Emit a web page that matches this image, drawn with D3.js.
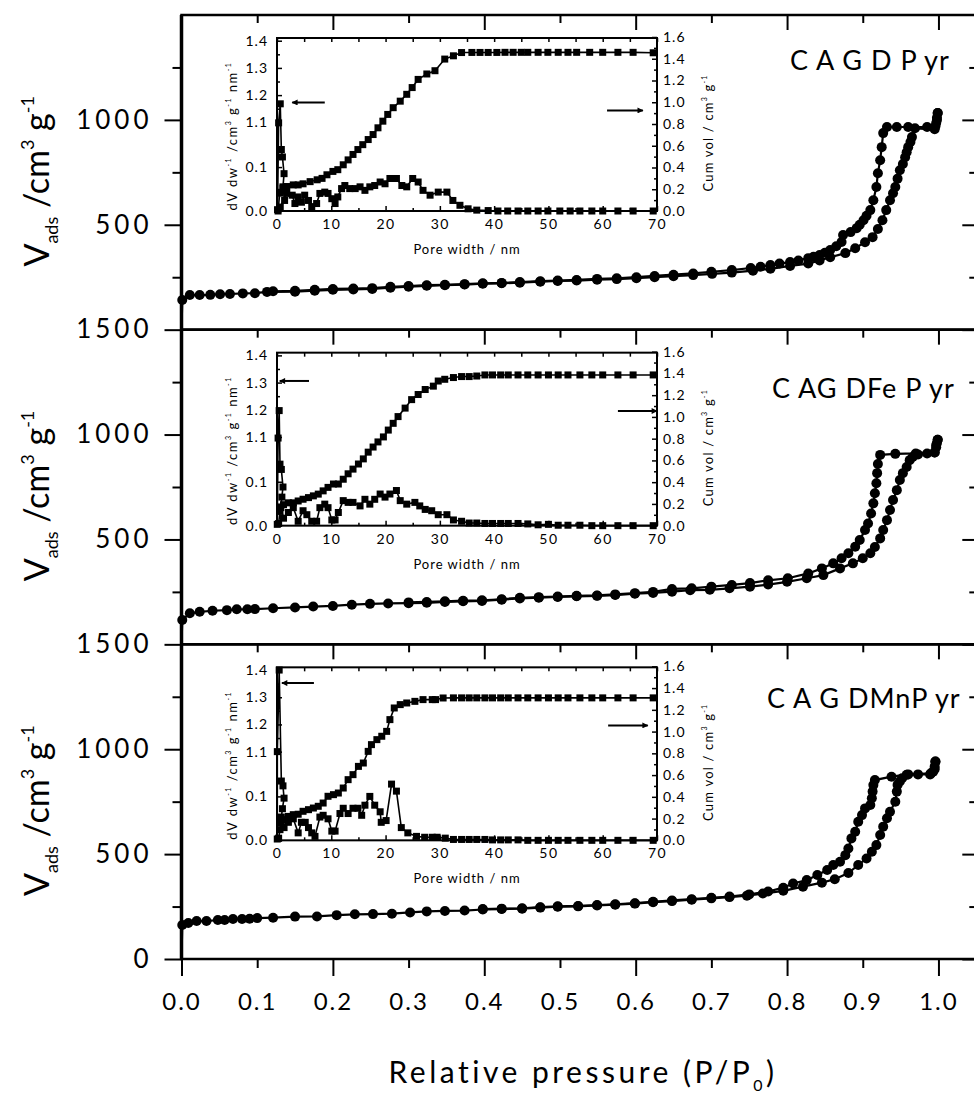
<!DOCTYPE html>
<html>
<head>
<meta charset="utf-8">
<title>CAGD isotherms</title>
<script src="https://cdnjs.cloudflare.com/ajax/libs/d3/7.8.5/d3.min.js"></script>
<style>
  body { margin:0; background:#fff; }
  svg { display:block; }
  .frame { fill:none; stroke:#000; stroke-width:2.5px; }
  .iframe { fill:none; stroke:#000; stroke-width:2px; }
  .axis path { display:none; }
  .axis line { stroke:#000; stroke-width:2px; }
  .iaxis path { display:none; }
  .iaxis line { stroke:#000; stroke-width:1.5px; }
  .iso { fill:none; stroke:#000; stroke-width:2.2px; }
  .ins { fill:none; stroke:#000; stroke-width:1.6px; }
</style>
</head>
<body>
<div id="chart"></div>
<script>
var FONT = "Lato, 'Open Sans', sans-serif";

// ---- data: isotherms [P/P0, Vads] ----
var topAds = [[0,0],[0.001,141],[0.011,165],[0.024,165],[0.038,166],[0.051,169],[0.064,170],[0.081,173],[0.097,174],[0.113,180],[0.15,181],[0.176,186],[0.2,190],[0.227,192],[0.252,194],[0.276,200],[0.3,205],[0.324,209],[0.348,212],[0.374,215],[0.398,219],[0.423,221],[0.447,224],[0.474,229],[0.497,232],[0.522,234],[0.549,238],[0.575,241],[0.601,245],[0.625,250],[0.65,255],[0.676,260],[0.701,266],[0.727,272],[0.755,281],[0.778,290],[0.804,304],[0.828,315],[0.843,330],[0.857,345],[0.877,365],[0.89,388],[0.903,417],[0.913,441],[0.92,480],[0.926,522],[0.931,570],[0.936,617],[0.94,650],[0.943,680],[0.946,720],[0.949,760],[0.953,790],[0.956,822],[0.958,846],[0.96,870],[0.963,895],[0.965,918],[0.969,960],[0.995,955],[0.997,985],[0.998,1010],[0.999,1033]];
var topDes = [[0.999,1033],[0.998,1000],[0.996,970],[0.985,966],[0.96,966],[0.945,966],[0.932,966],[0.927,937],[0.925,870],[0.923,808],[0.92,746],[0.918,680],[0.914,617],[0.91,570],[0.905,543],[0.901,522],[0.896,500],[0.892,484],[0.884,465],[0.874,451],[0.872,418],[0.865,398],[0.857,380],[0.85,367],[0.843,356],[0.835,348],[0.828,341],[0.815,330],[0.804,322],[0.79,315],[0.778,308],[0.765,300],[0.752,294],[0.727,284],[0.7,276],[0.676,268],[0.65,262],[0.625,256],[0.601,250],[0.575,245],[0.549,242],[0.522,237],[0.497,234],[0.474,231],[0.447,227],[0.423,223],[0.398,221],[0.374,217],[0.348,214],[0.324,212],[0.3,208],[0.276,204],[0.252,198],[0.227,196],[0.2,194],[0.176,190],[0.15,185],[0.121,183]];

var midAds = [[0,0],[0.001,116],[0.011,148],[0.024,155],[0.041,160],[0.06,163],[0.073,167],[0.087,167],[0.097,168],[0.121,172],[0.15,176],[0.174,180],[0.2,183],[0.225,189],[0.249,193],[0.273,195],[0.3,196],[0.324,198],[0.348,202],[0.372,205],[0.397,207],[0.423,213],[0.447,219],[0.472,222],[0.497,226],[0.522,229],[0.549,231],[0.573,235],[0.599,241],[0.623,245],[0.648,251],[0.672,258],[0.698,260],[0.724,267],[0.751,275],[0.775,285],[0.8,298],[0.826,315],[0.848,330],[0.87,362],[0.887,386],[0.9,410],[0.91,434],[0.916,464],[0.923,505],[0.927,545],[0.932,592],[0.936,640],[0.94,688],[0.945,735],[0.949,783],[0.953,816],[0.958,845],[0.962,878],[0.966,893],[0.973,905],[0.985,910],[0.995,915],[0.997,940],[0.998,960],[0.999,975]];
var midDes = [[0.999,975],[0.997,950],[0.995,915],[0.97,910],[0.943,908],[0.923,903],[0.92,860],[0.919,816],[0.918,768],[0.916,720],[0.914,672],[0.911,624],[0.907,576],[0.903,545],[0.896,497],[0.89,465],[0.881,434],[0.872,410],[0.861,386],[0.846,362],[0.828,338],[0.801,315],[0.775,305],[0.751,292],[0.727,283],[0.7,275],[0.674,267],[0.648,264],[0.623,250],[0.599,244],[0.573,238],[0.549,233],[0.522,231],[0.497,228],[0.472,225],[0.447,222],[0.423,215],[0.397,210],[0.372,208],[0.348,205],[0.324,202],[0.3,200]];

var botAds = [[0,0],[0.001,162],[0.009,172],[0.02,181],[0.033,181],[0.048,186],[0.057,186],[0.068,191],[0.08,191],[0.09,192],[0.1,195],[0.121,197],[0.15,202],[0.179,203],[0.205,209],[0.229,213],[0.253,214],[0.278,216],[0.302,222],[0.324,227],[0.348,229],[0.374,231],[0.398,236],[0.423,238],[0.45,240],[0.474,245],[0.497,249],[0.524,251],[0.549,255],[0.573,259],[0.599,264],[0.623,271],[0.648,276],[0.674,283],[0.7,289],[0.724,295],[0.747,302],[0.768,312],[0.795,325],[0.821,345],[0.846,364],[0.863,380],[0.881,410],[0.894,448],[0.905,479],[0.912,511],[0.918,543],[0.923,591],[0.927,631],[0.932,671],[0.936,702],[0.943,750],[0.945,798],[0.946,830],[0.949,846],[0.952,862],[0.958,878],[0.973,880],[0.989,880],[0.993,893],[0.995,917],[0.996,941]];
var botDes = [[0.996,941],[0.995,905],[0.99,885],[0.96,880],[0.938,869],[0.916,853],[0.914,829],[0.913,798],[0.912,766],[0.91,734],[0.903,718],[0.899,686],[0.894,654],[0.89,607],[0.885,575],[0.881,527],[0.877,495],[0.87,464],[0.861,448],[0.853,424],[0.84,400],[0.826,376],[0.808,360],[0.795,340],[0.775,322],[0.75,308],[0.724,298],[0.7,292],[0.674,285],[0.648,279],[0.623,273],[0.599,266],[0.573,261],[0.549,257],[0.524,253],[0.497,251],[0.474,247],[0.45,242],[0.423,240],[0.398,238]];

// ---- data: insets [pore width nm, value] ----
var topPsd = [[0.1,0.003],[0.3,1.098],[0.6,1.168],[0.8,0.145],[1.0,0.123],[1.3,0.085],[1.1,0.055],[1.4,0.024],[0.6,0.009],[1.8,0.04],[2.8,0.036],[3.3,0.017],[3.9,0.032],[4.5,0.02],[5.1,0.036],[5.8,0.024],[6.4,0.01],[7.3,0.017],[7.9,0.04],[8.8,0.043],[9.4,0.04],[10.1,0.028],[10.7,0.017],[11.2,0.032],[11.9,0.051],[12.5,0.058],[13.4,0.051],[14.4,0.051],[15.3,0.055],[16.2,0.047],[17.1,0.055],[18,0.058],[19,0.066],[19.9,0.062],[20.8,0.074],[22,0.074],[23,0.058],[23.9,0.055],[25,0.074],[26,0.066],[26.9,0.047],[28.2,0.036],[29.7,0.043],[31.3,0.043],[32.4,0.024],[33.7,0.013],[35.2,0.005],[36.8,0.002],[38.9,0.001],[40.7,0],[42.5,0],[44.4,0],[46.2,0],[48.1,0],[49.9,0],[52.1,0],[54,0],[55.8,0],[58,0],[60,0],[62.8,0],[65.6,0],[69.3,0]];
var topCum = [[0.2,0],[0.5,0.164],[1.1,0.21],[1.8,0.225],[3,0.24],[3.9,0.24],[4.8,0.25],[6.1,0.27],[7.4,0.287],[8.3,0.3],[9.2,0.333],[10.3,0.364],[11.2,0.38],[12.2,0.425],[13.1,0.47],[14,0.52],[14.9,0.565],[15.8,0.61],[16.8,0.657],[17.7,0.703],[18.6,0.765],[19.5,0.826],[20.4,0.888],[21.4,0.95],[22.7,1.01],[23.9,1.073],[24.9,1.135],[26,1.21],[27.6,1.26],[29.1,1.29],[30.9,1.397],[32.5,1.427],[34,1.457],[35.9,1.458],[37.4,1.458],[38.9,1.458],[40.5,1.458],[42,1.459],[43.5,1.459],[45,1.459],[46.2,1.459],[48.1,1.459],[49.9,1.459],[51.8,1.459],[53.6,1.459],[55.2,1.459],[57.6,1.459],[60,1.459],[62.8,1.459],[65.6,1.459],[69.3,1.455]];

var midPsd = [[0.05,0.003],[0.2,1.096],[0.4,1.197],[0.55,0.15],[0.8,0.128],[1.1,0.088],[0.9,0.065],[0.7,0.041],[1.2,0.017],[2.1,0.03],[3,0.041],[3.9,0.01],[4.8,0.034],[5.5,0.025],[6.4,0.01],[7.3,0.01],[7.9,0.041],[8.8,0.049],[9.4,0.041],[10.1,0.013],[10.7,0.013],[11.3,0.03],[12.2,0.057],[13.1,0.053],[14,0.053],[15.3,0.045],[16.2,0.06],[17.1,0.049],[18,0.06],[19,0.072],[19.9,0.065],[20.8,0.072],[22,0.08],[22.7,0.057],[23.9,0.049],[25.4,0.053],[26.3,0.045],[27.3,0.037],[28.5,0.034],[29.7,0.025],[31.3,0.025],[32.5,0.013],[34,0.01],[35.4,0.006],[36.8,0.006],[38.3,0.005],[39.7,0.005],[41.2,0.005],[42.6,0.005],[44.4,0.005],[46.2,0.004],[48.1,0.002],[50,0.003],[51.8,0.001],[53.6,0.001],[55.8,0.001],[58,0],[60,0],[62.8,0],[65.6,0],[69.3,0]];
var midCum = [[0.3,0.02],[0.55,0.131],[1.2,0.193],[2.1,0.21],[3,0.21],[3.9,0.227],[4.8,0.243],[5.8,0.258],[6.7,0.274],[7.6,0.29],[8.5,0.32],[9.4,0.352],[10.4,0.383],[11.3,0.383],[12.2,0.427],[13.1,0.477],[14,0.52],[15,0.567],[15.9,0.614],[16.8,0.676],[17.7,0.723],[18.6,0.77],[19.6,0.816],[20.5,0.879],[21.4,0.941],[22.3,1.003],[23.6,1.081],[24.8,1.159],[26,1.206],[27.3,1.252],[28.8,1.283],[29.7,1.33],[30.9,1.346],[32.5,1.362],[34,1.371],[35.4,1.371],[36.8,1.376],[38.3,1.386],[39.7,1.386],[41.2,1.386],[42.6,1.386],[44.4,1.386],[46.2,1.386],[48.1,1.386],[50,1.386],[51.8,1.386],[53.6,1.386],[55.8,1.386],[58,1.386],[60,1.386],[62.8,1.386],[65.6,1.386],[69.3,1.386]];

var botPsd = [[0.05,0.003],[0.06,1.1],[0.4,1.4],[0.8,0.135],[1.1,0.124],[1.3,0.096],[1.0,0.072],[0.8,0.053],[1.3,0.029],[2.1,0.041],[3,0.049],[3.9,0.017],[4.5,0.041],[5.2,0.041],[5.8,0.029],[6.4,0.017],[7,0.009],[7.9,0.053],[8.5,0.057],[9.4,0.049],[10.1,0.021],[10.7,0.021],[11.6,0.061],[12.2,0.073],[13.1,0.061],[14,0.073],[14.9,0.073],[15.6,0.057],[16.2,0.08],[17.1,0.1],[18,0.08],[19,0.065],[19.2,0.041],[20.1,0.045],[21.1,0.128],[22,0.112],[22.9,0.029],[24.1,0.017],[25.7,0.009],[27.2,0.007],[28.6,0.007],[29.5,0.007],[31,0.005],[32.5,0.002],[34,0.002],[35.4,0.002],[36.8,0.002],[38.3,0.002],[39.7,0.001],[41.2,0.001],[42.6,0.001],[44.4,0.001],[46.2,0],[48.1,0],[50,0],[51.8,0],[53.6,0],[55.8,0],[58,0],[60,0],[62.8,0],[65.6,0],[69.3,0]];
var botCum = [[0.3,0.02],[0.55,0.098],[0.8,0.159],[1.2,0.19],[2.1,0.22],[3,0.236],[3.9,0.24],[4.8,0.267],[5.8,0.282],[6.7,0.297],[7.6,0.313],[8.5,0.343],[9.4,0.405],[10.4,0.42],[11.3,0.435],[12.2,0.481],[13.1,0.558],[14,0.604],[15,0.68],[15.9,0.711],[16.8,0.818],[17.4,0.88],[18.4,0.926],[19.3,0.957],[20.2,1.002],[20.8,1.11],[21.6,1.217],[22.7,1.248],[23.9,1.263],[25.4,1.278],[26.9,1.294],[28.6,1.294],[29.2,1.294],[30.6,1.309],[32.5,1.31],[34,1.31],[35.4,1.31],[36.8,1.31],[38.3,1.31],[39.7,1.31],[41.2,1.31],[42.6,1.31],[44.4,1.31],[46.2,1.31],[48.1,1.31],[50,1.31],[51.8,1.31],[53.6,1.31],[55.8,1.31],[58,1.31],[60,1.31],[62.8,1.31],[65.6,1.31],[69.3,1.31]];

// labels and ticks
var sampleNames = ["C A G D P yr", "C AG DFe P yr", "C A G DMnP yr"];
var yTickSets = [[500,1000],[500,1000,1500],[0,500,1000,1500]];
var yMinorTicks = [250,750,1250];
var xTicks = [0,0.1,0.2,0.3,0.4,0.5,0.6,0.7,0.8,0.9,1.0];
var insetXTicks = [0,10,20,30,40,50,60,70];
var insetXMinor = [5,15,25,35,45,55,65];
var insetLeftTicks = [0,0.1,1.1,1.2,1.3,1.4];
var insetLeftMinor = [0.05,1.15,1.25,1.35];
var insetRightTicks = [0,0.2,0.4,0.6,0.8,1.0,1.2,1.4,1.6];
var insetRightMinor = [0.1,0.3,0.5,0.7,0.9,1.1,1.3,1.5];
// arrows: [x1, x2, y] in inset data units (left arrow on dV/dw scale, right arrow on cumulative scale)
var leftArrows = [[8.8,2.8,1.173],[5.9,0.5,1.306],[6.8,0.9,1.352]];
var rightArrows = [[60.8,67.4,0.925],[62.8,70,1.054],[61,68.3,1.057]];

var panels = [
  {ads: topAds, des: topDes, psd: topPsd, cum: topCum, name: sampleNames[0], nameX: 790, nameDy: 55},
  {ads: midAds, des: midDes, psd: midPsd, cum: midCum, name: sampleNames[1], nameX: 772, nameDy: 68},
  {ads: botAds, des: botDes, psd: botPsd, cum: botCum, name: sampleNames[2], nameX: 767, nameDy: 64}
];

var width = 974, height = 1097;
var plotLeft = 181.5, plotRight = 976.3, plotTop = 15, plotBottom = 959;
var panelH = (plotBottom - plotTop) / 3;

var svg = d3.select("#chart").append("svg")
  .attr("width", width).attr("height", height)
  .style("font-family", FONT);

var defs = svg.append("defs");
defs.append("marker").attr("id", "head")
  .attr("viewBox", "0 0 10 10").attr("refX", 9).attr("refY", 5)
  .attr("markerWidth", 9).attr("markerHeight", 6).attr("markerUnits", "userSpaceOnUse")
  .attr("orient", "auto")
  .append("path").attr("d", "M0,0L10,5L0,10Z").attr("fill", "#000");

var x = d3.scaleLinear().domain([0, 1.05]).range([plotLeft, plotRight]);
var ix = d3.scaleLinear().domain([0, 70]).range([277, 657]);

function styleTicks(g, size, family, spacing) {
  g.attr("font-size", size).attr("font-family", family);
  g.selectAll("text").attr("fill", "#000").style("letter-spacing", spacing + "px");
}

panels.forEach(function(p, i) {
  var top = plotTop + i * panelH, bottom = top + panelH;
  var y = d3.scaleLinear().domain([0, 1500]).range([bottom, top]);
  var g = svg.append("g");

  // top ticks (inward)
  g.append("g").attr("class", "axis").attr("transform", "translate(0," + top + ")")
    .call(d3.axisTop(x).tickValues(xTicks).tickSize(-15).tickFormat(""))
    .selectAll(".tick line").attr("y2", function(d, k) { return k % 2 ? 8 : 15; });
  // right ticks (inward)
  g.append("g").attr("class", "axis").attr("transform", "translate(" + plotRight + ",0)")
    .call(d3.axisRight(y).tickValues(yTickSets[i].concat(yMinorTicks)).tickSize(-14).tickFormat(""))
    .selectAll(".tick line").attr("x2", function(d) { return d % 500 ? -7 : -14; });
  // left axis
  var la = g.append("g").attr("class", "axis").attr("transform", "translate(" + plotLeft + ",0)")
    .call(d3.axisLeft(y).tickValues(yTickSets[i]).tickSize(17).tickPadding(12).tickFormat(d3.format("d")));
  styleTicks(la, 26, FONT, 4);
  g.append("g").attr("class", "axis").attr("transform", "translate(" + plotLeft + ",0)")
    .call(d3.axisLeft(y).tickValues(yMinorTicks).tickSize(9).tickFormat(""));

  g.append("rect").attr("class", "frame")
    .attr("x", plotLeft).attr("y", top).attr("width", plotRight - plotLeft).attr("height", panelH);

  // y title
  var yt = g.append("text")
    .attr("transform", "translate(49," + (top + panelH / 2 + 9) + ") rotate(-90)")
    .attr("text-anchor", "middle").attr("font-size", 34);
  yt.append("tspan").text("V");
  yt.append("tspan").attr("font-size", 18).attr("dy", 9).text("ads");
  yt.append("tspan").attr("dy", -9).text(" /cm");
  yt.append("tspan").attr("font-size", 18).attr("dy", -15).text("3");
  yt.append("tspan").attr("dy", 15).text(" g");
  yt.append("tspan").attr("font-size", 18).attr("dy", -15).text("-1");

  // sample name
  g.append("text").attr("x", p.nameX).attr("y", top + p.nameDy)
    .attr("font-size", 27).style("letter-spacing", "1px").text(p.name);

  // isotherm
  var line = d3.line().x(function(d) { return x(d[0]); }).y(function(d) { return y(d[1]); });
  [p.ads, p.des].forEach(function(s) {
    g.append("path").attr("class", "iso").attr("d", line(s));
    g.selectAll(null).data(s.filter(function(d) { return d[1] > 0; })).enter().append("circle")
      .attr("cx", function(d) { return x(d[0]); })
      .attr("cy", function(d) { return y(d[1]); })
      .attr("r", 5).attr("fill", "#000");
  });

  // ---- inset ----
  var T = top + 23, B = top + 196;
  var iyL = d3.scaleLinear().domain([0, 0.14, 1.0, 1.41]).range([B, B - 61.5, B - 61.5, T]);
  var iyR = d3.scaleLinear().domain([0, 1.6]).range([B, T - 1]);
  var ig = svg.append("g");

  ig.append("rect").attr("x", ix(0)).attr("y", T).attr("width", ix(70) - ix(0)).attr("height", B - T)
    .attr("fill", "#fff");

  var bx = ig.append("g").attr("class", "iaxis").attr("transform", "translate(0," + B + ")")
    .call(d3.axisBottom(ix).tickValues(insetXTicks).tickSizeInner(-5).tickSizeOuter(0).tickPadding(8));
  styleTicks(bx, 14, FONT, 1.5);
  ig.append("g").attr("class", "iaxis").attr("transform", "translate(0," + B + ")")
    .call(d3.axisBottom(ix).tickValues(insetXMinor).tickSize(-3).tickFormat(""));
  ig.append("g").attr("class", "iaxis").attr("transform", "translate(0," + T + ")")
    .call(d3.axisTop(ix).tickValues(insetXTicks.concat(insetXMinor)).tickSize(-4).tickFormat(""));

  var lx = ig.append("g").attr("class", "iaxis").attr("transform", "translate(" + ix(0) + ",0)")
    .call(d3.axisLeft(iyL).tickValues(insetLeftTicks).tickSizeInner(-5).tickSizeOuter(0).tickPadding(9).tickFormat(d3.format(".1f")));
  styleTicks(lx, 14, FONT, 1);
  ig.append("g").attr("class", "iaxis").attr("transform", "translate(" + ix(0) + ",0)")
    .call(d3.axisLeft(iyL).tickValues(insetLeftMinor).tickSize(-3).tickFormat(""));

  var rx = ig.append("g").attr("class", "iaxis").attr("transform", "translate(" + ix(70) + ",0)")
    .call(d3.axisRight(iyR).tickValues(insetRightTicks).tickSizeInner(-5).tickSizeOuter(0).tickPadding(6).tickFormat(d3.format(".1f")));
  styleTicks(rx, 14, FONT, 1);
  ig.append("g").attr("class", "iaxis").attr("transform", "translate(" + ix(70) + ",0)")
    .call(d3.axisRight(iyR).tickValues(insetRightMinor).tickSize(-3).tickFormat(""));

  ig.append("rect").attr("class", "iframe")
    .attr("x", ix(0)).attr("y", T).attr("width", ix(70) - ix(0)).attr("height", B - T);

  var psdLine = d3.line().x(function(d) { return ix(d[0]); }).y(function(d) { return iyL(d[1]); });
  var cumLine = d3.line().x(function(d) { return ix(d[0]); }).y(function(d) { return iyR(d[1]); });
  [[p.psd, psdLine, iyL], [p.cum, cumLine, iyR]].forEach(function(s) {
    ig.append("path").attr("class", "ins").attr("d", s[1](s[0]));
    ig.selectAll(null).data(s[0]).enter().append("rect")
      .attr("x", function(d) { return ix(d[0]) - 3.5; })
      .attr("y", function(d) { return s[2](d[1]) - 3.5; })
      .attr("width", 7).attr("height", 7).attr("fill", "#000");
  });

  // arrows
  var la2 = leftArrows[i], ra = rightArrows[i];
  ig.append("line").attr("x1", ix(la2[0])).attr("x2", ix(la2[1]))
    .attr("y1", iyL(la2[2])).attr("y2", iyL(la2[2]))
    .attr("stroke", "#000").attr("stroke-width", 2).attr("marker-end", "url(#head)");
  ig.append("line").attr("x1", ix(ra[0])).attr("x2", ix(ra[1]))
    .attr("y1", iyR(ra[2])).attr("y2", iyR(ra[2]))
    .attr("stroke", "#000").attr("stroke-width", 2).attr("marker-end", "url(#head)");

  // inset titles
  ig.append("text").attr("x", 467).attr("y", B + 43).attr("text-anchor", "middle")
    .attr("font-size", 13).style("letter-spacing", "1px").text("Pore width / nm");

  var lt = ig.append("text").attr("transform", "translate(237," + (B - 75) + ") rotate(-90)")
    .attr("text-anchor", "middle").attr("font-size", 13).style("letter-spacing", "1.5px");
  lt.append("tspan").text("dV dw");
  lt.append("tspan").attr("font-size", 7).attr("dy", -6).text("-1");
  lt.append("tspan").attr("dy", 6).text(" /cm");
  lt.append("tspan").attr("font-size", 7).attr("dy", -6).text("3");
  lt.append("tspan").attr("dy", 6).text("  g");
  lt.append("tspan").attr("font-size", 7).attr("dy", -6).text("-1");
  lt.append("tspan").attr("dy", 6).text("  nm");
  lt.append("tspan").attr("font-size", 7).attr("dy", -6).text("-1");

  var rt = ig.append("text").attr("transform", "translate(713," + (B - 78) + ") rotate(-90)")
    .attr("text-anchor", "middle").attr("font-size", 13).style("letter-spacing", "1.2px");
  rt.append("tspan").text("Cum vol / cm");
  rt.append("tspan").attr("font-size", 7).attr("dy", -6).text("3");
  rt.append("tspan").attr("dy", 6).text(" g");
  rt.append("tspan").attr("font-size", 7).attr("dy", -6).text("-1");
});

// thick left spine
svg.append("line").attr("x1", plotLeft).attr("x2", plotLeft).attr("y1", plotTop).attr("y2", plotBottom)
  .attr("stroke", "#000").attr("stroke-width", 3.5);

// bottom axis
var bax = svg.append("g").attr("class", "axis").attr("transform", "translate(0," + plotBottom + ")")
  .call(d3.axisBottom(x).tickValues(xTicks).tickSize(17).tickPadding(17).tickFormat(d3.format(".1f")));
bax.selectAll(".tick line").attr("y2", function(d, k) { return k % 2 ? 9 : 17; });
styleTicks(bax, 24, FONT, 2);

var xt = svg.append("text").attr("x", 583).attr("y", 1083).attr("text-anchor", "middle")
  .attr("font-size", 30).style("letter-spacing", "3.5px");
xt.append("tspan").text("Relative pressure  (P/P");
xt.append("tspan").attr("font-size", 16).attr("dy", 8).text("0");
xt.append("tspan").attr("dy", -8).text(")");
</script>
</body>
</html>
